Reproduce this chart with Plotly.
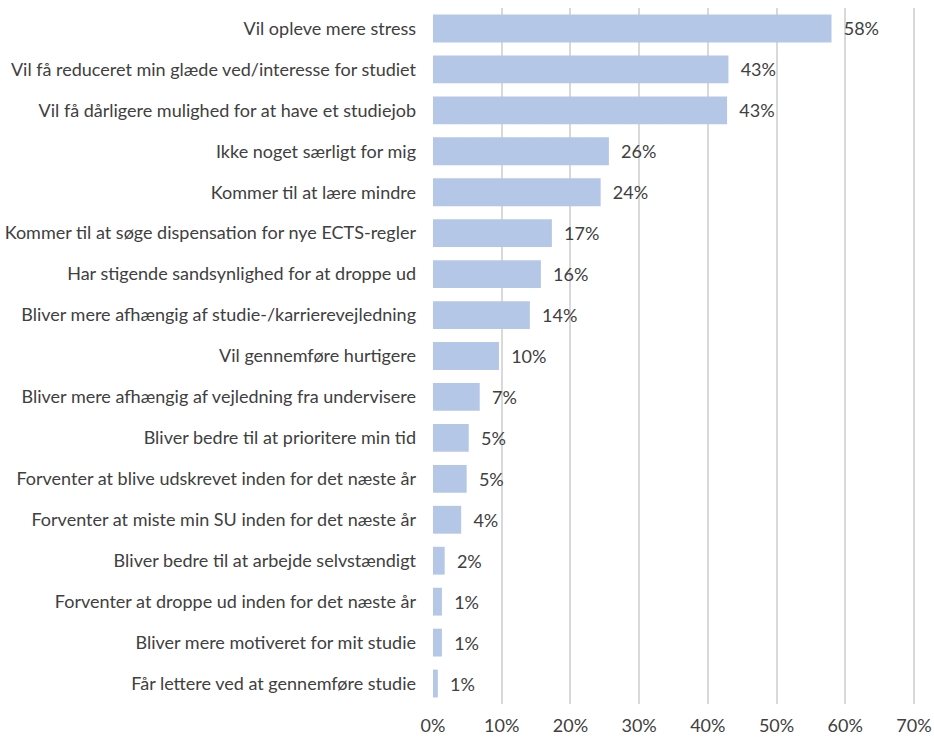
import plotly.graph_objects as go

categories = [
    "Vil opleve mere stress",
    "Vil få reduceret min glæde ved/interesse for studiet",
    "Vil få dårligere mulighed for at have et studiejob",
    "Ikke noget særligt for mig",
    "Kommer til at lære mindre",
    "Kommer til at søge dispensation for nye ECTS-regler",
    "Har stigende sandsynlighed for at droppe ud",
    "Bliver mere afhængig af studie-/karrierevejledning",
    "Vil gennemføre hurtigere",
    "Bliver mere afhængig af vejledning fra undervisere",
    "Bliver bedre til at prioritere min tid",
    "Forventer at blive udskrevet inden for det næste år",
    "Forventer at miste min SU inden for det næste år",
    "Bliver bedre til at arbejde selvstændigt",
    "Forventer at droppe ud inden for det næste år",
    "Bliver mere motiveret for mit studie",
    "Får lettere ved at gennemføre studie",
]
values = [0.580, 0.430, 0.428, 0.256, 0.244, 0.173, 0.157, 0.141, 0.096,
          0.068, 0.052, 0.049, 0.041, 0.017, 0.013, 0.013, 0.007]
x_ticks = [0, 0.1, 0.2, 0.3, 0.4, 0.5, 0.6, 0.7]

FONT = "Lato"
TXT = "#404040"
FS = 18

fig = go.Figure(go.Bar(
    x=values, y=categories, orientation="h",
    marker=dict(color="#B4C7E7", line=dict(width=0)),
    texttemplate="  %{x:.0%}", textposition="outside", cliponaxis=False,
    textfont=dict(family=FONT, size=FS, color=TXT),
))
fig.update_layout(
    width=934, height=738,
    margin=dict(l=433, r=19, t=8, b=34, autoexpand=False),
    paper_bgcolor="white", plot_bgcolor="white",
    bargap=0.32, showlegend=False,
    font=dict(family=FONT, size=FS, color=TXT),
)
fig.update_xaxes(range=[0, 0.7015], tickvals=x_ticks, tickformat=".0%",
                 showgrid=True, gridcolor="#D9D9D9", gridwidth=1.5,
                 zeroline=False, showline=False, ticks="", automargin=False,
                 ticklabelstandoff=9,
                 tickfont=dict(family=FONT, size=FS, color=TXT))
fig.update_yaxes(autorange="reversed", showgrid=False, showline=False,
                 ticks="", ticklabelstandoff=16, automargin=False,
                 tickfont=dict(family=FONT, size=FS, color=TXT))
fig.write_html(
    "out.html",
    config={"displayModeBar": False},
    post_script="document.body.style.margin='0';document.body.style.overflow='hidden';",
)
